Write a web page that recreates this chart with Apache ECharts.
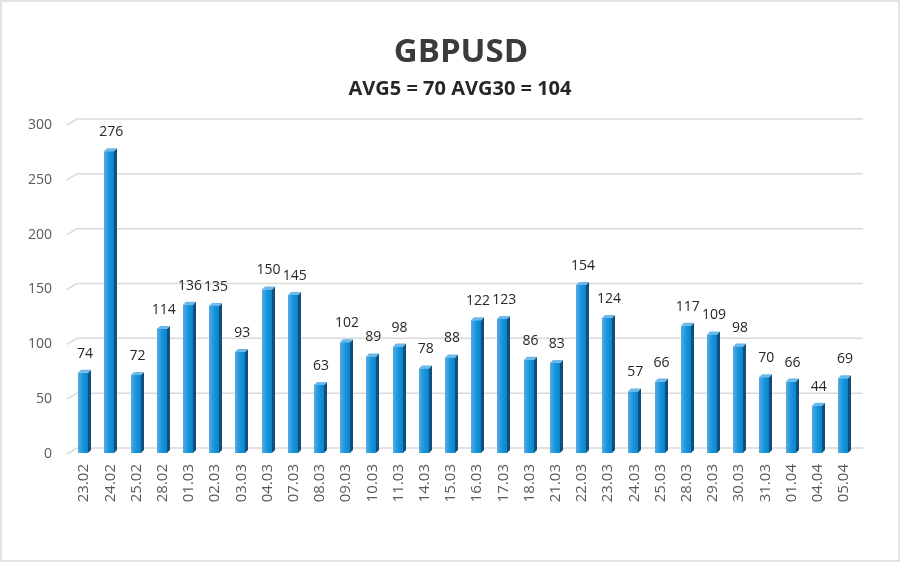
<!DOCTYPE html>
<html><head><meta charset="utf-8">
<script src="https://cdn.jsdelivr.net/npm/echarts@6/dist/echarts.min.js"></script>
<style>html,body{margin:0;padding:0;background:#fff}#c{width:900px;height:562px;position:absolute;left:0;top:0}#b{position:absolute;left:0;top:0;width:900px;height:562px;box-sizing:border-box;border:2px solid #e2e2e2;pointer-events:none}</style>
</head><body><div id="c"></div><div id="b"></div>
<script>
const categories = ['23.02','24.02','25.02','28.02','01.03','02.03','03.03','04.03','07.03','08.03','09.03','10.03','11.03','14.03','15.03','16.03','17.03','18.03','21.03','22.03','23.03','24.03','25.03','28.03','29.03','30.03','31.03','01.04','04.04','05.04'];
const values = [74,276,72,114,136,135,93,150,145,63,102,89,98,78,88,122,123,86,83,154,124,57,66,117,109,98,70,66,44,69];
const yTicks = [0,50,100,150,200,250,300];
const titleText = 'GBPUSD';
const subText = 'AVG5 = 70 AVG30 = 104';

const chart = echarts.init(document.getElementById('c'), null, {renderer:'canvas'});
const FONT = '"Open Sans", "Noto Sans", sans-serif';
const W = 10, DX = 3, DY = 3;
const BACK_X = 6, BACK_Y = 6;

function renderBar(params, api){
  const x = api.value(0), v = api.value(1);
  const top = api.coord([x, v]);
  const base = api.coord([x, 0]);
  const l = Math.round(top[0] - W/2 - 1), r = l + W;
  const t = top[1], b = base[1] - 1;
  return {type:'group', children:[
    {type:'polygon', shape:{points:[[r,t],[r+DX,t-DY],[r+DX,b-DY],[r,b]]}, style:{fill:'#104f7c'}},
    {type:'polygon', shape:{points:[[l,t],[l+DX,t-DY],[r+DX,t-DY],[r,t]]}, style:{fill:'#6cb8ea'}},
    {type:'rect', shape:{x:l, y:t, width:W, height:b-t}, style:{fill:new echarts.graphic.LinearGradient(0,0,1,0,[{offset:0,color:'#58abe5'},{offset:0.5,color:'#1795dd'},{offset:1,color:'#0a85cb'}])}},
    {type:'text', style:{text:String(v), x:top[0]+1, y:t-12, align:'center', verticalAlign:'bottom', fill:'#262626', font:'14px '+FONT}}
  ]};
}
function renderGridLine(params, api){
  const v = api.value(0);
  const p = api.coord([0, v]);
  const cs = params.coordSys;
  const yf = p[1], yb = yf - BACK_Y;
  const x0 = cs.x, x1 = cs.x + cs.width;
  return {type:'group', children:[
    {type:'line', shape:{x1:x0-4, y1:yf, x2:x0+BACK_X, y2:yb}, style:{stroke:'#d9d9d9', lineWidth:1.5}},
    {type:'line', shape:{x1:x0+BACK_X, y1:yb, x2:x1+BACK_X, y2:yb}, style:{stroke:'#d9d9d9', lineWidth:1.5}}
  ]};
}
chart.setOption({
  animation:false,
  backgroundColor:'#fff',
  title:[
    {text:titleText, left:456, textAlign:'center', top:31, textStyle:{fontFamily:FONT, fontWeight:'bold', fontSize:33, color:'#3b3b3b'}},
    {text:subText, left:455, textAlign:'center', top:74, textStyle:{fontFamily:FONT, fontWeight:'bold', fontSize:20, color:'#262626'}}
  ],
  grid:{left:71, right:43, top:125, bottom:108},
  xAxis:{type:'category', data:categories, boundaryGap:true,
    axisLine:{show:false}, axisTick:{show:false},
    axisLabel:{rotate:90, interval:0, color:'#595959', fontFamily:FONT, fontSize:15, margin:10}},
  yAxis:{type:'value', min:0, max:300, interval:50,
    axisLine:{show:false}, axisTick:{show:false}, splitLine:{show:false},
    axisLabel:{color:'#595959', fontFamily:FONT, fontSize:14, margin:19}},
  series:[
    {type:'custom', renderItem:renderGridLine, data:yTicks.map(v=>[v]), encode:{y:0}, silent:true, z:1},
    {type:'custom', renderItem:renderBar, data:values.map((v,i)=>[i,v]), encode:{x:0,y:1}, z:3}
  ]
});
</script></body></html>
